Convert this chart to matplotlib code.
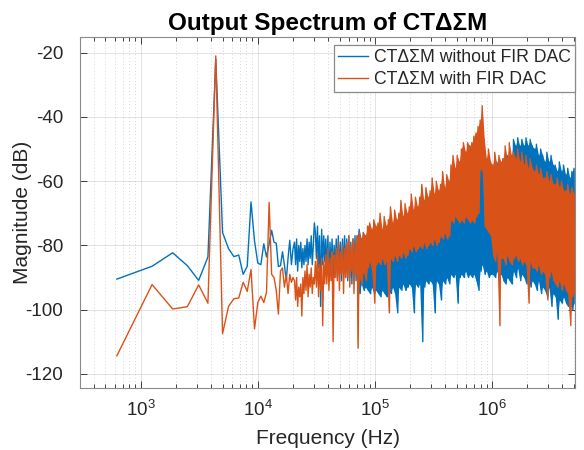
import numpy as np
import matplotlib
matplotlib.use('Agg')
import matplotlib.pyplot as plt

# ---------------- data ----------------
bin_hz = 625                       # FFT bin spacing
low_bins = np.arange(1, 33)        # first 32 bins: 625 Hz ... 20 kHz

blue_low = [-90.5, -86.5, -82.3, -86.3, -90.9, -83.6, -22.0, -76.0,
            -81.0, -83.5, -83.0, -89.0, -86.5, -66.5, -78.6, -85.5,
            -86.0, -79.5, -83.6, -79.5, -75.3, -79.0, -79.3, -86.6,
            -86.3, -82.0, -86.0, -91.0, -84.0, -78.4, -86.0, -81.0]

orange_low = [-114.4, -92.2, -99.8, -99.1, -92.3, -98.0, -21.0, -107.5,
              -99.0, -96.6, -96.4, -91.5, -94.3, -87.5, -106.0, -97.8,
              -95.8, -97.8, -94.6, -66.6, -89.0, -90.0, -94.0, -101.4,
              -88.0, -87.0, -93.0, -89.0, -95.0, -89.0, -91.5, -90.0]

dense_start_hz = 20600
dense_stop_hz = 5.12e6

# dense part: values alternate between local maxima and local minima
blue_dense = [
    -79, -86, -78, -88, -80, -85, -79, -87, -81, -86,
    -80, -85, -78, -86, -79, -84, -77, -86, -80, -73,
    -76, -84, -74, -87, -77, -99, -75, -86, -77, -85,
    -78, -89, -77, -91, -79, -88, -78, -90, -80, -87,
    -78, -90, -77, -89, -79, -91, -78, -88, -77, -90,
    -78, -91, -77, -90, -79, -92, -78, -89, -77, -91,
    -77, -93, -75, -95, -78, -92, -76, -94, -77, -93,
    -77, -94, -76, -95, -78, -93, -77, -95, -79, -94,
    -77, -95, -78, -96, -76, -94, -79, -95, -77, -96,
    -76, -94, -78, -95, -75, -93, -77, -95, -76, -101,
    -74, -93, -76, -94, -73, -92, -75, -94, -74, -93,
    -72, -92, -74, -93, -71, -101, -73, -92, -72, -93,
    -70, -92, -72, -110, -69, -93, -71, -91, -70, -92,
    -68, -91, -70, -92, -67, -101, -69, -91, -68, -92,
    -66, -97, -68, -91, -65, -92, -67, -90, -66, -92,
    -64, -89, -66, -90, -63, -89, -65, -98, -64, -90,
    -62, -89, -64, -90, -61, -88, -63, -90, -62, -89,
    -60, -90, -62, -89, -59, -91, -58, -94, -56, -88,
    -56, -86, -57, -89, -56, -88, -55, -90, -57, -89,
    -55, -89, -56, -90, -54, -88, -56, -90, -55, -89,
    -53, -91, -54, -92, -52, -90, -54, -91, -53, -92,
    -47, -88, -49, -90, -46.5, -87, -49, -91, -47, -89,
    -49, -90, -46.5, -92, -49, -89, -47, -93, -49, -91,
    -50, -92, -48.5, -94, -52, -91, -50, -95, -52, -93,
    -54, -94, -51, -96, -54, -93, -52, -99, -55, -95,
    -55, -96, -57, -103, -54, -97, -57, -98, -55, -96,
    -58, -98, -56, -99, -59, -97, -57, -100, -56, -98,
]

orange_dense = [
    -91, -97, -90, -99, -93, -96, -92, -102, -90, -95,
    -88, -94, -86, -96, -89, -93, -87, -95, -90, -92,
    -85, -93, -83, -96, -86, -94, -84, -105, -85, -92,
    -83, -92, -81, -94, -84, -91, -82, -110, -83, -90,
    -81, -91, -79, -94, -82, -89, -80, -95, -81, -90,
    -79, -90, -77, -93, -80, -88, -78, -95, -79, -89,
    -77, -112, -76, -90, -78, -92, -76, -88, -77, -91,
    -74, -87, -73, -85, -75, -88, -72, -98, -74, -86,
    -73, -85, -70, -86, -75, -84, -71, -86, -74, -85,
    -72, -101, -68, -84, -73, -85, -69, -83, -72, -85,
    -70, -83, -66, -84, -71, -82, -67, -84, -70, -83,
    -68, -81, -64, -82, -69, -80, -65, -82, -68, -81,
    -65, -80, -61, -81, -66, -79, -62, -81, -65, -80,
    -63, -79, -59, -80, -64, -78, -60, -80, -63, -79,
    -61, -77, -57, -78, -62, -76, -58, -78, -60, -77,
    -55, -72, -52, -73, -56, -71, -52, -72, -54, -73,
    -50, -72, -48, -73, -51, -71, -48, -72, -49, -73,
    -48, -72, -46, -73, -45, -71, -43, -70, -41, -56,
    -36.5, -57, -47, -74, -53, -75, -50, -76, -54, -77,
    -55, -83, -51, -85, -55, -82, -52, -105, -54, -84,
    -53, -84, -49, -86, -53, -83, -48, -85, -52, -86,
    -51, -84, -53, -83, -50, -85, -54, -84, -51, -86,
    -55, -85, -52, -86, -56, -98, -53, -85, -56, -87,
    -57, -87, -55, -88, -58, -86, -56, -89, -59, -88,
    -59, -89, -57, -97, -60, -90, -58, -88, -61, -91,
    -61, -92, -59, -93, -62, -91, -60, -94, -63, -92,
    -63, -94, -61, -95, -64, -105, -62, -96, -64, -95,
]

labels = ['CT\u0394\u03a3M without FIR DAC', 'CT\u0394\u03a3M with FIR DAC']
title = 'Output Spectrum of CT\u0394\u03a3M'
xlabel = 'Frequency (Hz)'
ylabel = 'Magnitude (dB)'
yticks = [-120, -100, -80, -60, -40, -20]

# ---------------- build series ----------------
f_low = low_bins * bin_hz
f_dense = np.geomspace(dense_start_hz, dense_stop_hz, len(blue_dense))
freq = np.concatenate([f_low, f_dense])
blue = np.concatenate([blue_low, blue_dense])
orange = np.concatenate([orange_low, orange_dense])

# band (maxima / minima pairs) where the spectrum is very dense
band_from = 60
fb = f_dense[band_from::2]
blue_hi = np.array(blue_dense[band_from::2])
blue_lo = np.array(blue_dense[band_from + 1::2])
orange_hi = np.array(orange_dense[band_from::2])
orange_lo = np.array(orange_dense[band_from + 1::2])

# ---------------- style ----------------
plt.rcParams['font.family'] = ['Liberation Sans', 'DejaVu Sans']
plt.rcParams['mathtext.fontset'] = 'custom'
plt.rcParams['mathtext.rm'] = 'Liberation Sans'
plt.rcParams['mathtext.it'] = 'Liberation Sans'
plt.rcParams['axes.unicode_minus'] = False

BLUE = '#0072BD'
ORANGE = '#D95319'
axcol = '#262626'
fig = plt.figure(figsize=(5.84, 4.5), dpi=100)
W, H = 584, 450
L, R, T, B = 80, 575, 37.3, 388.3
ax = fig.add_axes([L / W, 1 - B / H, (R - L) / W, (B - T) / H])

ax.fill_between(fb, blue_lo, blue_hi, color=BLUE, lw=0, zorder=2)
ax.plot(freq, blue, color=BLUE, lw=1.0, label=labels[0], zorder=2.1)
ax.fill_between(fb, orange_lo, orange_hi, color=ORANGE, lw=0, zorder=2.2)
ax.plot(freq, orange, color=ORANGE, lw=1.0, label=labels[1], zorder=2.3)

ax.set_xscale('log')
ax.set_xlim(303, 5.12e6)
ax.set_ylim(-124.5, -15.2)
ax.set_yticks(yticks)

ax.grid(True, which='major', color=axcol, alpha=0.15, lw=0.6)
ax.grid(True, which='minor', axis='x', color=axcol, alpha=0.25, lw=0.6,
        linestyle=(0, (1, 3)))

ax.tick_params(which='both', direction='in', top=True, right=True,
               colors=axcol, labelsize=13.5)
ax.tick_params(which='major', length=5, width=0.6)
ax.tick_params(which='minor', length=3, width=0.6)
ax.tick_params(axis='y', pad=12)
ax.tick_params(axis='x', pad=8)
for s in ax.spines.values():
    s.set_color('#8a8a8a')
    s.set_linewidth(0.8)

ax.set_xlabel(xlabel, fontsize=15, color=axcol, labelpad=7)
ax.set_ylabel(ylabel, fontsize=15, color=axcol)
ax.yaxis.set_label_coords((32 - L) / (R - L), 0.5)
ax.set_title(title, fontsize=17.5, fontweight='bold', color='black', pad=5)

leg = ax.legend(loc='upper right', bbox_to_anchor=(1.0, 1 - (45 - T) / (B - T)),
                borderaxespad=0, fontsize=12.7, fancybox=False, framealpha=1,
                edgecolor='#8a8a8a', handlelength=1.7, handletextpad=0.3,
                borderpad=0.25, labelspacing=0.25)
leg.get_frame().set_linewidth(0.9)
for t in leg.get_texts():
    t.set_color(axcol)

fig.savefig('out.png', dpi=100)
